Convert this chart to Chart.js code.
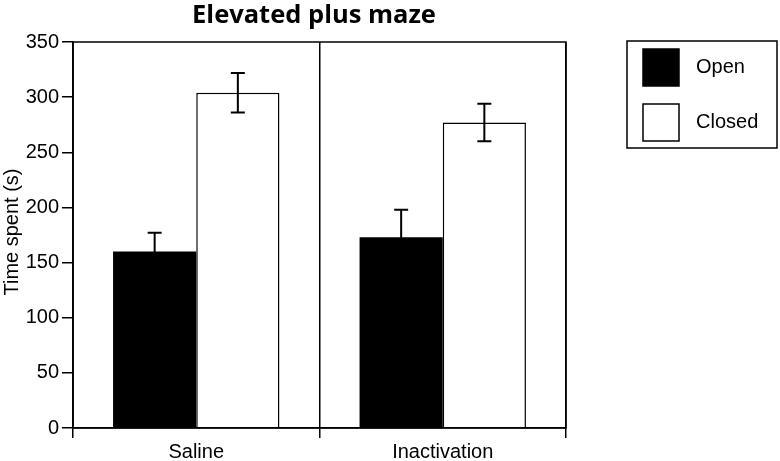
<!DOCTYPE html>
<html>
<head>
<meta charset="utf-8">
<script src="https://cdn.jsdelivr.net/npm/chart.js@4"></script>
<style>
  html, body { margin: 0; padding: 0; background: #fff; }
  #wrap { width: 780px; height: 461px; position: relative; }
</style>
</head>
<body>
<div id="wrap"><canvas id="epm"></canvas></div>
<script>
// Elevated plus maze - time spent in open vs closed arms
const groups = ['Saline', 'Inactivation'];
const openMeans = [160, 173];
const openSem = [17, 25];
const closedMeans = [304, 277];
const closedSem = [18, 17];
const yTicks = [0, 50, 100, 150, 200, 250, 300, 350];

const FONT = '"Liberation Sans", Arial, sans-serif';

// error bars, plot frame, title, y label and the boxed legend
const extras = {
  id: 'extras',
  afterDatasetsDraw(chart) {
    const ctx = chart.ctx;
    const y = chart.scales.y;
    ctx.save();
    ctx.strokeStyle = '#000';
    ctx.lineWidth = 2;
    chart.data.datasets.forEach((ds, i) => {
      chart.getDatasetMeta(i).data.forEach((bar, j) => {
        const hi = y.getPixelForValue(ds.data[j] + ds.sem[j]);
        const lo = y.getPixelForValue(ds.data[j] - ds.sem[j]);
        ctx.beginPath();
        ctx.moveTo(bar.x, hi); ctx.lineTo(bar.x, lo);
        ctx.moveTo(bar.x - 7, hi); ctx.lineTo(bar.x + 7, hi);
        ctx.moveTo(bar.x - 7, lo); ctx.lineTo(bar.x + 7, lo);
        ctx.stroke();
      });
    });
    ctx.restore();
  },
  afterDraw(chart) {
    const ctx = chart.ctx;
    const a = chart.chartArea;
    ctx.save();
    ctx.strokeStyle = '#000';
    ctx.lineWidth = 1.5;
    ctx.strokeRect(a.left, a.top, a.right - a.left, a.bottom - a.top);

    ctx.fillStyle = '#000';
    ctx.font = 'bold 25.5px "Open Sans", sans-serif';
    ctx.textAlign = 'center';
    ctx.textBaseline = 'alphabetic';
    ctx.fillText('Elevated plus maze', 314, 23);

    ctx.font = '20px ' + FONT;
    ctx.translate(12, 232);
    ctx.rotate(-Math.PI / 2);
    ctx.textBaseline = 'middle';
    ctx.fillText('Time spent (s)', 0, 0);
    ctx.setTransform(1, 0, 0, 1, 0, 0);

    // legend
    ctx.lineWidth = 1.5;
    ctx.strokeRect(627, 41, 150, 107);
    ctx.textAlign = 'left';
    ctx.textBaseline = 'middle';
    chart.data.datasets.forEach((ds, i) => {
      const top = 49 + i * 55;
      ctx.fillStyle = ds.backgroundColor;
      ctx.fillRect(643, top, 36, 37);
      ctx.strokeRect(643, top, 36, 37);
      ctx.fillStyle = '#000';
      ctx.fillText(ds.label, 696, top + 18);
    });
    ctx.restore();
  }
};

new Chart(document.getElementById('epm'), {
  type: 'bar',
  data: {
    labels: groups,
    datasets: [
      { label: 'Open', data: openMeans, sem: openSem, backgroundColor: '#000', borderColor: '#000', borderWidth: 0 },
      { label: 'Closed', data: closedMeans, sem: closedSem, backgroundColor: '#fff', borderColor: '#000', borderWidth: 1.5 }
    ]
  },
  options: {
    responsive: true, maintainAspectRatio: false, animation: false,
    layout: { padding: { top: 42, right: 214, bottom: 0, left: 0 } },
    datasets: { bar: { categoryPercentage: 0.675, barPercentage: 1 } },
    plugins: { legend: { display: false }, title: { display: false }, tooltip: { enabled: false } },
    scales: {
      x: {
        offset: true,
        grid: { offset: true, color: '#000', lineWidth: 1.5, tickLength: 10, drawOnChartArea: true },
        border: { color: '#000', width: 1.5 },
        ticks: { color: '#000', font: { family: FONT, size: 20 }, padding: 2 },
        afterFit(s) { s.height = 33; }
      },
      y: {
        min: 0, max: 350,
        afterBuildTicks(s) { s.ticks = yTicks.map(v => ({ value: v })); },
        grid: { drawOnChartArea: false, color: '#000', lineWidth: 1.5, tickLength: 11 },
        border: { color: '#000', width: 1.5 },
        ticks: { color: '#000', font: { family: FONT, size: 20 }, padding: 3 },
        afterFit(s) { s.width = 73; }
      }
    }
  },
  plugins: [extras]
});
</script>
</body>
</html>
